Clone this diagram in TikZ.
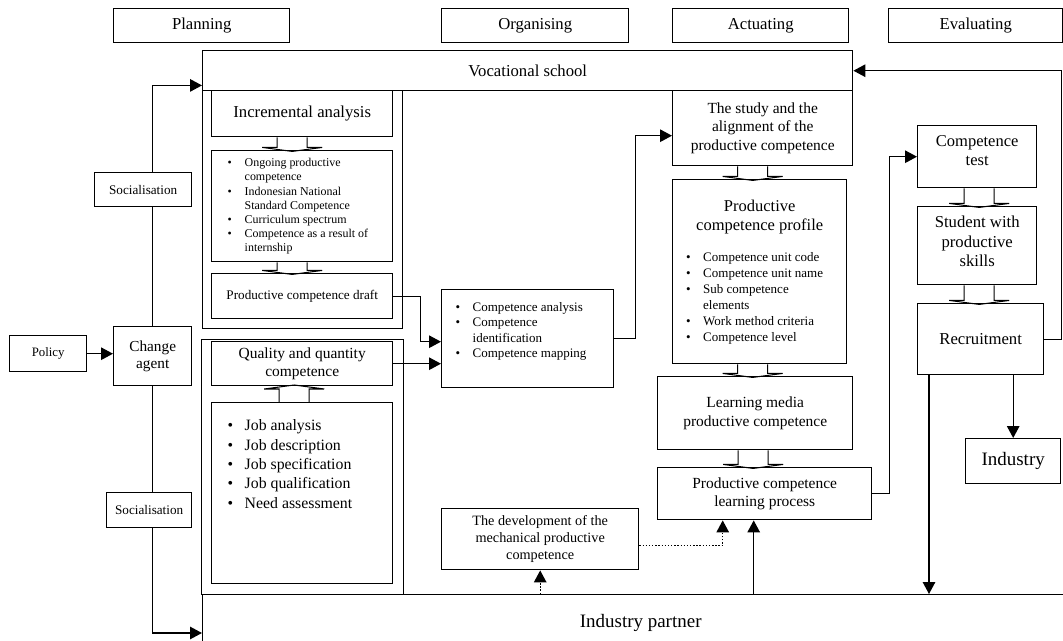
\documentclass[tikz,border=0pt]{standalone}
\usepackage{fontspec}
\setmainfont{Liberation Serif}
\usetikzlibrary{arrows.meta}
\newcommand{\bitem}[1]{\par\hangindent=0.34cm\hangafter=1\noindent\makebox[0.34cm][l]{\textbullet}#1}
\newcommand{\blist}[2]{\parbox[t]{#1}{\raggedright#2}}
\tikzset{
  box/.style={draw, fill=white, align=center, inner sep=1pt, anchor=north west},
  boxsize/.style 2 args={minimum width=#1*0.02cm, minimum height=#2*0.02cm},
  tinytext/.style={font=\fontsize{6.8}{8}\selectfont},
  smalltext/.style={font=\fontsize{7.4}{8.8}\selectfont},
  midtext/.style={font=\fontsize{8.8}{10.5}\selectfont},
  bigtext/.style={font=\fontsize{9.5}{11}\selectfont},
  largetext/.style={font=\fontsize{10.8}{12}\selectfont},
  arr/.style={-{Triangle[length=2.4mm,width=2.5mm]}},
  dotarr/.style={arr, densely dotted},
  pics/blockdown/.default={14},
  pics/blockdown/.style = {
    code = {
    \draw[semithick, pic actions] (-15,0) -- (-15,#1-4) -- (-30,#1-4) -- (0,#1) -- (30,#1-4) -- (15,#1-4) -- (15,0);
    }
  }
}

\begin{document}
\begin{tikzpicture}[thick, x=0.02cm, y=-0.02cm]
  \useasboundingbox (0,0) rectangle (1063,640);
  % phase headers
  \foreach \name/\x/\w in {Planning/113/176, Organising/441/187, Actuating/672/176, Evaluating/888/174} {
    \node[box, bigtext, boxsize={\w}{34}] (\name) at (\x,8) {\name};
  }
  \node[box, bigtext, boxsize={650}{40}] (voc) at (202,50) {Vocational school};
  \node[box, largetext, boxsize={876}{56}] (partner) at (202,594) {Industry partner};

  % planning frames
  \node[draw, anchor=north west, boxsize={200}{238}] (planA) at (202,90) {};
  \node[draw, anchor=north west, boxsize={202}{255}] (planB) at (201,339) {};

  % planning column
  \node[box, bigtext, boxsize={181}{46}] (incr) at (211,90) {Incremental analysis};
  \node[box, tinytext, boxsize={181}{111}] (ongoing) at (211,150) {\blist{2.98cm}{%
    \bitem{Ongoing productive competence}\bitem{Indonesian National Standard Competence}%
    \bitem{Curriculum spectrum}\bitem{Competence as a result of internship}}};
  \node[box, font=\fontsize{7.5}{9}\selectfont, boxsize={181}{45}] (draft) at (211,273) {Productive competence draft};
  \node[box, midtext, boxsize={181}{44}] (qq) at (211,341) {Quality and quantity\\competence};
  \node[box, font=\fontsize{9}{11}\selectfont, boxsize={181}{181}] (jobs) at (211,402) {\blist{2.98cm}{%
    \bitem{Job analysis}\bitem{Job description}\bitem{Job specification}%
    \bitem{Job qualification}\bitem{Need assessment}\par\vspace*{1.16cm}}};

  % left side
  \node[box, font=\fontsize{7.3}{9}\selectfont, boxsize={77}{36}] (policy) at (9,335) {Policy};
  \node[box, font=\fontsize{8.7}{9.8}\selectfont, boxsize={78}{59}] (change) at (113,326) {Change\\agent};
  \node[box, font=\fontsize{7.5}{9}\selectfont, boxsize={97}{34}] (soc1) at (94,172) {Socialisation};
  \node[box, font=\fontsize{7.5}{9}\selectfont, boxsize={85}{35}] (soc2) at (106,492) {Socialisation};

  % organising column
  \node[box, smalltext, boxsize={172}{98}] (cana) at (441,289) {\blist{2.88cm}{%
    \bitem{Competence analysis}\bitem{Competence identification}\bitem{Competence mapping}\par\vspace*{0.3cm}}};
  \node[box, font=\fontsize{8.1}{9.6}\selectfont, boxsize={197}{61}] (devel) at (441,508) {The development of the\\mechanical productive\\competence};

  % actuating column
  \node[box, midtext, boxsize={180}{75}] (study) at (672,90) {The study and the\\alignment of the\\productive competence};
  \node[box, font=\fontsize{9.4}{11}\selectfont, boxsize={174}{184}] (profile) at (672,179) {Productive\\competence profile\\[7pt]%
    \blist{2.94cm}{\fontsize{7.4}{9}\selectfont
    \bitem{Competence unit code}\bitem{Competence unit name}\bitem{Sub competence elements}%
    \bitem{Work method criteria}\bitem{Competence level}}};
  \node[box, midtext, boxsize={195}{73}] (media) at (657,376) {Learning media\\productive competence};
  \node[box, midtext, boxsize={214}{52}] (pclp) at (657,467) {Productive competence\\learning process};

  % evaluating column
  \node[box, font=\fontsize{9.4}{10.7}\selectfont, boxsize={119}{62}, text depth=0.26cm] (ctest) at (917,125) {Competence\\test};
  \node[box, bigtext, boxsize={119}{78}, text depth=0.18cm] (student) at (917,206) {Student with\\productive\\skills};
  \node[box, bigtext, boxsize={126}{71}] (recruit) at (917,303) {Recruitment};
  \node[box, largetext, boxsize={95}{45}] (industry) at (965,438) {Industry};

  % hollow block arrows
  \foreach \a/\g/\s in {incr/14/-10, ongoing/12/-10, study/14/-10, profile/13/-7, media/18/-2, ctest/19/2, student/19/2} {
    \pic at ([xshift=\s*0.02cm]\a.south) {blockdown=\g};
  }
  \pic[rotate=180] at ([xshift=-0.16cm]jobs.north) {blockdown=17};

  % policy and change agent
  \draw[arr] (policy.east) -- (policy.east -| change.west);
  \draw (change.north) -- (soc1.south -| change.north);
  \draw[arr] (soc1.north -| change.north) |- ([yshift=0.12cm]voc.south west);
  \draw (change.south) -- (soc2.north -| change.south);
  \draw[arr] (soc2.south -| change.south) |- ([yshift=-0.78cm]partner.north west);

  % planning to organising to actuating
  \draw[arr] (draft.east) -- ++(27,0) |- ([yshift=-0.06cm]cana.west);
  \draw[arr] (qq.east) -- (qq.east -| cana.west);
  \draw[arr] (cana.east) -- ++(21,0) |- ([yshift=-0.15cm]study.west);

  % industry partner inputs
  \draw[dotarr] (devel.south |- partner.north) -- (devel.south);
  \draw[dotarr] ([yshift=-0.13cm]devel.east) -| ([xshift=-0.84cm]pclp.south);
  \coordinate (pin) at ([xshift=-0.22cm]pclp.south);
  \draw[arr] (pin |- partner.north) -- (pin);

  % actuating to evaluating and back
  \draw[arr] (pclp.east) -- ++(17,0) |- (ctest.west);
  \draw[arr] (recruit.south -| industry.north) -- (industry.north);
  \coordinate (rout) at ([xshift=0.24cm]recruit.south west);
  \draw[arr] (rout) -- (rout |- partner.north);
  \draw[arr] (recruit.east) -- ++(17,0) |- (voc.east);
\end{tikzpicture}
\end{document}
